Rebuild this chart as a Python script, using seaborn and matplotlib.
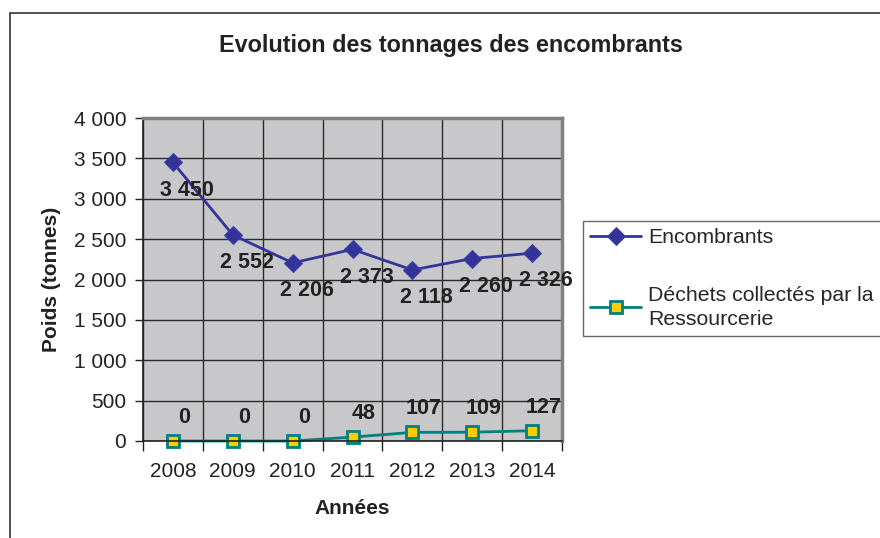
import matplotlib
matplotlib.use("Agg")
import matplotlib.pyplot as plt
import matplotlib.ticker as mticker
from matplotlib.patches import Rectangle
import seaborn as sns
import pandas as pd

# values
annees = ["2008", "2009", "2010", "2011", "2012", "2013", "2014"]
encombrants = [3450, 2552, 2206, 2373, 2118, 2260, 2326]
ressourcerie = [0, 0, 0, 48, 107, 109, 127]
y_ticks = [0, 500, 1000, 1500, 2000, 2500, 3000, 3500, 4000]

df = pd.DataFrame({"annee": annees, "encombrants": encombrants, "ressourcerie": ressourcerie})


def fmt(v):
    # French thousands separator
    return f"{v:,}".replace(",", " ")


sns.set_theme(style="white")
plt.rcParams["font.family"] = ["Liberation Sans", "DejaVu Sans"]

fig = plt.figure(figsize=(8.8, 5.38), dpi=100)
ax = fig.add_axes([143 / 880, 1 - 441 / 538, (562 - 143) / 880, (441 - 118) / 538])
ax.set_facecolor("#c8c8ca")

sns.lineplot(data=df, x="annee", y="encombrants", ax=ax, color="#333399", lw=2,
             marker="D", markersize=9, markerfacecolor="#333399", markeredgecolor="#3a44a8",
             label="Encombrants", clip_on=False)
sns.lineplot(data=df, x="annee", y="ressourcerie", ax=ax, color="#008080", lw=2,
             marker="s", markersize=9, markerfacecolor="#ffcc00", markeredgecolor="#008080",
             markeredgewidth=2, label="Déchets collectés par la\nRessourcerie", clip_on=False)

for i, v in enumerate(encombrants):
    ax.annotate(fmt(v), (i, v), xytext=(10, -20), textcoords="offset points",
                ha="center", va="center", fontsize=15.5, fontweight="bold", color="#222222")
for i, v in enumerate(ressourcerie):
    ax.annotate(fmt(v), (i, v), xytext=(8, 17), textcoords="offset points",
                ha="center", va="center", fontsize=15.5, fontweight="bold", color="#222222")

ax.set_xlim(-0.5, 6.5)
ax.set_ylim(0, 4000)
ax.yaxis.set_major_locator(mticker.FixedLocator(y_ticks))
ax.yaxis.set_major_formatter(mticker.FuncFormatter(lambda v, p: fmt(int(v))))
ax.xaxis.set_minor_locator(mticker.FixedLocator([i - 0.5 for i in range(len(annees) + 1)]))

ax.grid(False)
ax.grid(True, axis="y", which="major", color="#2a2a2a", lw=1)
ax.grid(True, axis="x", which="minor", color="#2a2a2a", lw=1)
ax.set_axisbelow(True)

ax.tick_params(axis="y", which="major", left=True, length=6, width=1, color="#222222",
               labelsize=15, labelcolor="#222222", pad=6)
ax.tick_params(axis="x", which="major", bottom=False, length=0, labelsize=15,
               labelcolor="#222222", pad=15)
ax.tick_params(axis="x", which="minor", bottom=True, length=7, width=1, color="#222222")

for side in ["top", "right"]:
    ax.spines[side].set_color("#808080")
    ax.spines[side].set_linewidth(2.5)
for side in ["left", "bottom"]:
    ax.spines[side].set_color("#222222")
    ax.spines[side].set_linewidth(1.2)

ax.set_xlabel("Années", fontsize=15, fontweight="bold", color="#222222", labelpad=13)
ax.set_ylabel("Poids (tonnes)", fontsize=15, fontweight="bold", color="#222222", labelpad=9)

fig.suptitle("Evolution des tonnages des encombrants", x=0.512, y=1 - 46 / 538, va="center",
             fontsize=16.8, fontweight="bold", color="#222222")

ax.legend(loc="upper left", bbox_to_anchor=(583 / 880, 1 - 221 / 538), bbox_transform=fig.transFigure,
          frameon=True, fancybox=False, edgecolor="#444444", fontsize=15.3, labelspacing=1.8,
          handlelength=2.4, handletextpad=0.3, borderpad=0.35, borderaxespad=0)
leg = ax.get_legend()
leg.get_frame().set_linewidth(1)
for t in leg.get_texts():
    t.set_linespacing(1.35)

# outer chart frame (right and bottom edges fall outside the picture)
fig.patches.append(Rectangle((10 / 880, -0.1), 1.2, 1 - 13 / 538 + 0.1, transform=fig.transFigure,
                             fill=False, edgecolor="#333333", lw=1.2, clip_on=False))

fig.savefig("out.png", dpi=100)
plt.close(fig)
